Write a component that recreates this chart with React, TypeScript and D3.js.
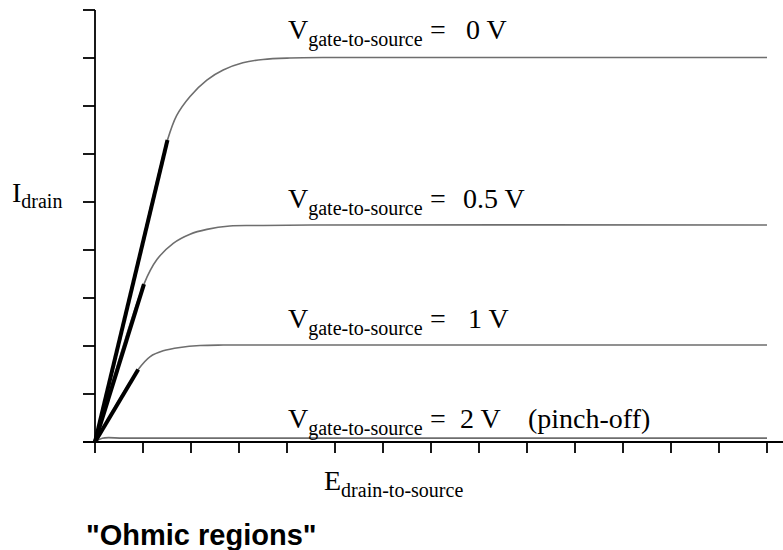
import React from "react";
import * as d3 from "d3";

// ---- data (axis units: x = drain-to-source voltage ticks, y = drain current ticks)
const xTicks = d3.range(0, 15);
const yTicks = d3.range(0, 10);

const vds0 = [0, 0.75, 1.51, 1.7, 1.98, 2.33, 2.67, 3.08, 3.5, 4.06, 4.9, 6, 14];
const id0 = [0, 3.14, 6.29, 6.8, 7.2, 7.54, 7.75, 7.9, 7.97, 8.0, 8.01, 8.01, 8.01];

const vds05 = [0, 1.02, 1.29, 1.63, 1.98, 2.33, 2.81, 3.37, 4.5, 14];
const id05 = [0, 3.29, 3.8, 4.14, 4.33, 4.43, 4.5, 4.51, 4.52, 4.52];

const vds1 = [0, 0.9, 1.15, 1.42, 1.77, 2.19, 2.67, 3.5, 14];
const id1 = [0, 1.51, 1.78, 1.9, 1.97, 2.01, 2.02, 2.02, 2.02];

const vds2 = [0, 0.15, 0.6, 2, 14];
const id2 = [0, 0.08, 0.08, 0.08, 0.08];

const ohmicEndX = [1.51, 1.02, 0.9];
const ohmicEndY = [6.29, 3.29, 1.51];

const gateLabels = ["0 V", "0.5 V", "1 V", "2 V"];
const gateNote = ["", "", "", "(pinch-off)"];

// ---- layout (not data)
const W = 783;
const H = 550;
const labelBaseline = [39, 208, 328, 428];
const labelValueX = [466, 463, 468, 460];
const SERIF = "'Liberation Serif', 'Times New Roman', serif";
const SANS = "'Liberation Sans', Arial, sans-serif";

export default function App() {
  const x = d3.scaleLinear().domain([0, 14]).range([95, 767]);
  const y = d3.scaleLinear().domain([0, 9]).range([442, 10]);

  const line = d3
    .line<[number, number]>()
    .x((d) => x(d[0]))
    .y((d) => y(d[1]))
    .curve(d3.curveCatmullRom.alpha(0.5));

  const series: [number[], number[]][] = [
    [vds0, id0],
    [vds05, id05],
    [vds1, id1],
    [vds2, id2],
  ];

  return (
    <svg
      width={W}
      height={H}
      style={{ position: "absolute", left: 0, top: 0, background: "#fff" }}
    >
      {/* curves */}
      {series.map(([xs, ys], i) => (
        <path
          key={"c" + i}
          d={line(xs.map((v, j) => [v, ys[j]] as [number, number])) || ""}
          fill="none"
          stroke="#6e6e6e"
          strokeWidth={1.6}
        />
      ))}

      {/* axes */}
      <line x1={x(0)} x2={x(0)} y1={y(9)} y2={y(0)} stroke="#000" strokeWidth={1.8} />
      <line x1={x(0) - 12} x2={W} y1={y(0)} y2={y(0)} stroke="#000" strokeWidth={1.8} />
      {yTicks.map((t) => (
        <line key={"yt" + t} x1={x(0) - 12} x2={x(0)} y1={y(t)} y2={y(t)} stroke="#000" strokeWidth={1.8} />
      ))}
      {xTicks.map((t) => (
        <line key={"xt" + t} x1={x(t)} x2={x(t)} y1={y(0)} y2={y(0) + 11} stroke="#000" strokeWidth={1.8} />
      ))}

      {/* ohmic region lines */}
      {ohmicEndX.map((ex, i) => (
        <line
          key={"o" + i}
          x1={x(0)}
          y1={y(0)}
          x2={x(ex)}
          y2={y(ohmicEndY[i])}
          stroke="#000"
          strokeWidth={4}
        />
      ))}

      {/* gate labels */}
      {gateLabels.map((g, i) => (
        <text key={"l" + i} x={288} y={labelBaseline[i]} fontFamily={SERIF} fontSize={28} fill="#000">
          V
          <tspan fontSize={20} dy={7}>gate-to-source</tspan>
          <tspan x={430} dy={-7}>=</tspan>
          <tspan x={labelValueX[i]}>{g}</tspan>
          {gateNote[i] ? <tspan x={528}>{gateNote[i]}</tspan> : null}
        </text>
      ))}

      {/* axis labels */}
      <text x={12} y={202} fontFamily={SERIF} fontSize={28} fill="#000">
        I<tspan fontSize={20} dy={6}>drain</tspan>
      </text>
      <text x={324} y={490} fontFamily={SERIF} fontSize={28} fill="#000">
        E<tspan fontSize={20} dy={7}>drain-to-source</tspan>
      </text>

      <text x={86} y={545} fontFamily={SANS} fontSize={29} fontWeight="bold" fill="#000">
        "Ohmic regions"
      </text>
    </svg>
  );
}
